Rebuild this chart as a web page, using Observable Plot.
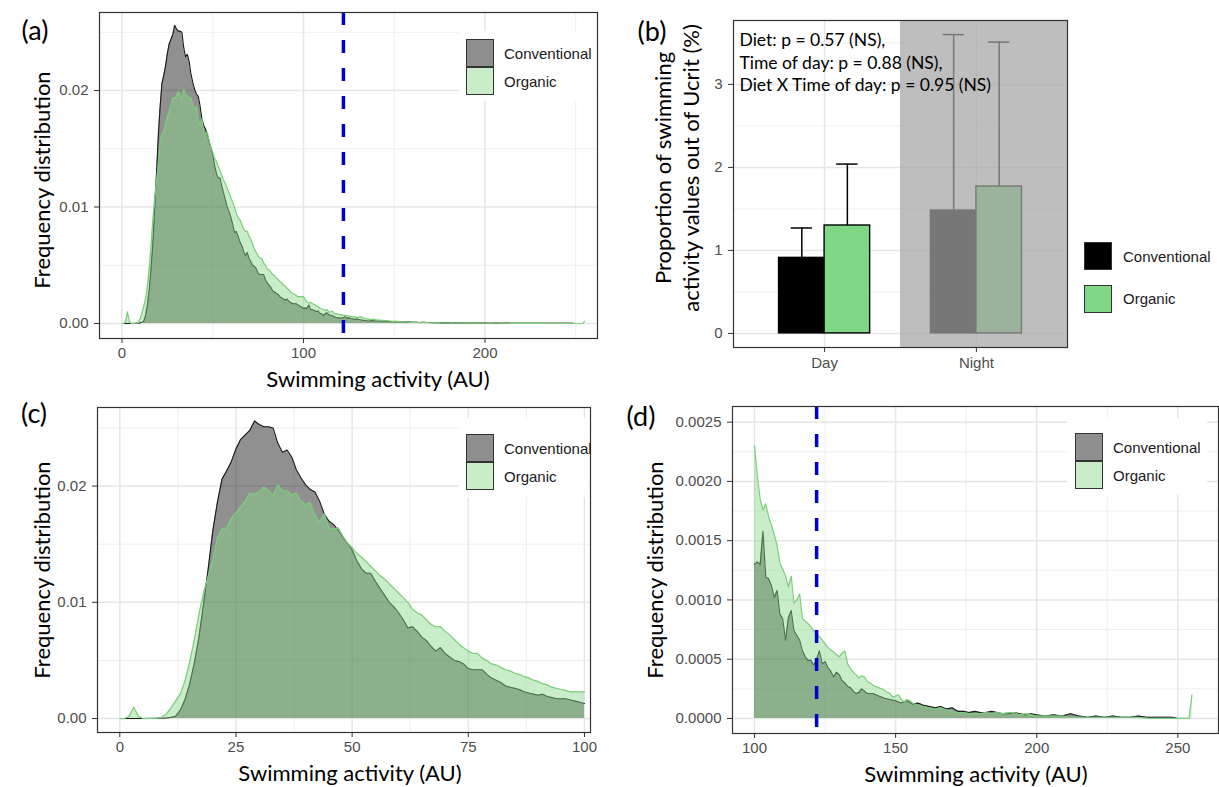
<!DOCTYPE html>
<html><head><meta charset="utf-8">
<script src="https://cdn.jsdelivr.net/npm/d3@7"></script>
<script src="https://cdn.jsdelivr.net/npm/@observablehq/plot@0.6"></script>
<style>
body{margin:0;background:#fff;}
#fig{position:relative;width:1219px;height:787px;overflow:hidden;font-family:Lato,"Open Sans",sans-serif;background:#fff;}
.abs{position:absolute;white-space:nowrap;color:#000;}
.plabel{font-size:27px;transform:translate(-50%,-50%);}
.xt{font-size:22px;transform:translate(-50%,-50%);}
.yt{font-size:22px;transform:translate(-50%,-50%) rotate(-90deg);text-align:center;}
.bg{position:absolute;background:#fff;}
.key{position:absolute;box-sizing:border-box;border:1.5px solid #333;}
.ltext{position:absolute;white-space:nowrap;font-family:"Liberation Sans",Arial,sans-serif;font-size:15px;color:#1a1a1a;transform:translateY(-50%);}
</style></head><body><div id="fig"></div>
<script>
// ---------------- data ----------------
const ucrit = 122;
const dietNames = ["Conventional", "Organic"];

const conventionalX = [1,4,8,10,
 11,12,13,14,15,16,17,18,19,20,21,22,23,24,25,26,27,28,29,30,31,32,33,34,35,36,37,38,39,40,
 41,42,43,44,45,46,47,48,49,50,51,52,53,54,55,56,57,58,59,60,61,62,63,64,65,66,67,68,69,70,
 71,72,73,74,75,76,77,78,79,80,81,82,83,84,85,86,87,88,89,90,91,92,93,94,95,96,97,98,99,100,
 101,102,103,104,105,106,107,108,109,110,111,112,113,114,115,116,117,118,119,120,
 121,122,123,124,125,126,127,128,129,130,131,132,133,134,135,136,137,138,139,140,
 142,144,146,148,150,152,154,156,158,160,162,164,166,168,170,172,174,176,178,180,
 182,184,186,188,190,192,194,196,198,200,
 203,206,209,212,215,218,221,224,227,230,233,236,239,242,245,248,250];
const conventionalFreq = [0,0,0.00002,0.00005,
 0.0001,0.0002,0.0007,0.0016,0.0029,0.0047,0.0069,0.0098,0.0128,0.0161,
 0.0186,0.0206,0.0213,0.0221,0.0232,0.0240,0.0244,0.0248,0.0256,0.0253,
 0.0251,0.0251,0.0250,0.0237,0.0229,0.0231,0.0225,0.0214,0.0207,0.0201,
 0.0197,0.0195,0.0187,0.0176,0.0170,0.0167,0.0162,0.0156,0.0151,0.0145,
 0.0136,0.0129,0.0125,0.0125,0.0118,0.0112,0.0106,0.0100,0.0096,0.0091,
 0.0085,0.0078,0.0079,0.0075,0.0070,0.0067,0.0062,0.0058,0.0061,0.0056,
 0.0053,0.0050,0.0049,0.0047,0.0043,0.0042,0.0042,0.0042,0.0038,0.0035,
 0.0033,0.0031,0.0028,0.0027,0.0026,0.0025,0.0023,0.0022,0.0021,0.0020,
 0.0021,0.0019,0.0018,0.0017,0.0017,0.0017,0.0016,0.0015,0.0014,0.0013,
 0.00132,0.00130,0.00158,0.00119,0.00118,0.00112,0.00102,0.00108,0.00088,0.00084,
 0.00066,0.00085,0.00091,0.00074,0.00070,0.00066,0.00057,0.00052,0.00049,0.00049,
 0.00045,0.00050,0.00057,0.00046,0.00048,0.00043,0.00040,0.00035,0.00039,0.00037,
 0.00032,0.00030,0.00027,0.00026,0.00023,0.00021,0.00022,0.00025,0.00023,0.00021,
 0.00021,0.00019,0.00017,0.00016,0.00015,0.00013,0.00015,0.00012,0.00013,0.00011,
 0.00010,0.00009,0.00010,0.00008,0.00009,0.00006,0.00006,0.00005,0.00006,0.00005,
 0.00005,0.00006,0.00005,0.00004,0.00004,0.00005,0.00004,0.00003,0.00004,0.00003,
 0.00002,0.00003,0.00002,0.00004,0.00002,0.00001,0.00002,0.00001,0.00002,0.00001,
 0.00001,0.00002,0.00001,0.00001,0.00001,0.00001,0];

const organicX = [0,1,2,3,4,5,8,
 9,10,11,12,13,14,15,16,17,18,19,20,21,22,23,24,25,26,27,28,29,30,31,32,33,34,35,36,37,38,39,40,
 41,42,43,44,45,46,47,48,49,50,51,52,53,54,55,56,57,58,59,60,61,62,63,64,65,66,67,68,69,70,
 71,72,73,74,75,76,77,78,79,80,81,82,83,84,85,86,87,88,89,90,91,92,93,94,95,96,97,98,99,100,
 101,102,103,104,105,106,107,108,109,110,111,112,113,114,115,116,117,118,119,120,
 121,122,123,124,125,126,127,128,129,130,131,132,133,134,135,136,137,138,139,140,
 141,142,143,144,145,146,147,148,149,150,151,152,153,154,155,156,
 158,160,162,164,166,168,170,172,174,176,178,180,182,184,186,188,190,192,194,196,198,200,
 203,206,209,212,215,218,221,224,227,230,235,240,245,250,254,255];
const organicFreq = [0,0,0.0002,0.0010,0.0002,0,0.00003,
 0.0001,0.0004,0.0009,0.0015,0.0021,0.0032,0.0048,0.0067,0.0089,0.0108,0.0122,0.0136,
 0.0155,0.0163,0.0164,0.0172,0.0177,0.0182,0.0187,0.0194,0.0193,0.0195,
 0.0199,0.0196,0.0192,0.0201,0.0196,0.0196,0.0192,0.0194,0.0187,0.0184,
 0.0186,0.0175,0.0169,0.0176,0.0164,0.0163,0.0164,0.0157,0.0151,0.0147,
 0.0142,0.0139,0.0135,0.0131,0.0127,0.0123,0.0120,0.0116,0.0112,0.0108,
 0.0104,0.0100,0.0094,0.0091,0.0089,0.0085,0.0081,0.0079,0.0079,0.0075,
 0.0072,0.0068,0.0064,0.0061,0.0058,0.0056,0.0056,0.0052,0.0050,0.0047,
 0.0046,0.0044,0.0042,0.0041,0.0039,0.0038,0.0036,0.0035,0.0033,0.0032,
 0.0030,0.0029,0.0027,0.0026,0.0025,0.0024,0.0023,0.0023,0.0023,0.0023,
 0.00205,0.00185,0.00176,0.00181,0.00170,0.00163,0.00155,0.00146,0.00131,0.00126,
 0.00120,0.00111,0.00120,0.00097,0.00100,0.00105,0.00084,0.00082,0.00080,0.00077,
 0.00074,0.00071,0.00069,0.00066,0.00063,0.00060,0.00058,0.00056,0.00054,0.00052,
 0.00055,0.00057,0.00046,0.00042,0.00039,0.00037,0.00034,0.00036,0.00035,0.00031,
 0.00030,0.00028,0.00027,0.00026,0.00025,0.00024,0.00022,0.00021,0.00018,0.00019,
 0.00020,0.00016,0.00014,0.00016,0.00015,0.00013,
 0.00011,0.00010,0.00009,0.00008,0.00009,0.00007,0.00006,0.00005,0.00005,0.00004,
 0.00004,0.00004,0.00005,0.00004,0.00005,0.00004,0.00005,0.00005,0.00003,0.00004,
 0.00003,0.00002,
 0.00002,0.00002,0.00002,0.00001,0.00001,0.00001,0.00001,0.00001,0.00001,0.00001,
 0.00001,0,0,0,0,0.0002];

// panel (b)
const timeOfDay = ["Day", "Night"];
const barTime = ["Day", "Day", "Night", "Night"];
const barDiet = ["Conventional", "Organic", "Conventional", "Organic"];
const barMean = [0.91, 1.30, 1.48, 1.77];
const barUpper = [1.27, 2.04, 3.60, 3.51];
const statsText = ["Diet: p = 0.57 (NS),", "Time of day: p = 0.88 (NS),", "Diet X Time of day: p = 0.95 (NS)"];

// ---------------- styles ----------------
const convFill = "#080808", orgFill = "rgb(135,213,135)", areaAlpha = 0.45;
const convLine = "#1a1a1a", orgLine = "#7ccd7c";
const gridMajor = "#e6e6e6", gridMinor = "#efefef";
const plotStyle = {background: "transparent", fontFamily: "'Liberation Sans', Arial, sans-serif", fontSize: "15px", color: "#4d4d4d", overflow: "visible"};

const fig = document.getElementById("fig");
function place(node, left, top) {
  node.style.position = "absolute";
  node.style.left = left + "px";
  node.style.top = top + "px";
  fig.appendChild(node);
}
function html(tag, cls, text, css) {
  const el = document.createElement(tag);
  el.className = cls;
  if (text != null) el.innerHTML = text;
  Object.assign(el.style, css);
  fig.appendChild(el);
  return el;
}
const px = v => v + "px";

const convData = conventionalX.map((x, i) => ({x, f: conventionalFreq[i]}));
const orgData = organicX.map((x, i) => ({x, f: organicFreq[i]}));

function densityPanel(o) {
  const conv = convData.filter(d => d.x >= o.from && d.x <= o.to);
  const org = orgData.filter(d => d.x >= o.from && d.x <= o.to);
  return Plot.plot({
    width: o.width, height: o.height,
    marginLeft: o.ml, marginRight: o.mr, marginTop: o.mt, marginBottom: o.mb,
    x: {domain: o.xDomain},
    y: {domain: o.yDomain},
    style: plotStyle,
    marks: [
      Plot.gridX(o.xMinor, {stroke: gridMinor, strokeOpacity: 1, strokeWidth: 1}),
      Plot.gridY(o.yMinor, {stroke: gridMinor, strokeOpacity: 1, strokeWidth: 1}),
      Plot.gridX(o.xTicks, {stroke: gridMajor, strokeOpacity: 1, strokeWidth: 1.5}),
      Plot.gridY(o.yTicks, {stroke: gridMajor, strokeOpacity: 1, strokeWidth: 1.5}),
      Plot.areaY(conv, {x: "x", y: "f", fill: convFill, fillOpacity: areaAlpha}),
      Plot.lineY(conv, {x: "x", y: "f", stroke: convLine, strokeWidth: 1.1}),
      Plot.areaY(org, {x: "x", y: "f", fill: orgFill, fillOpacity: areaAlpha}),
      Plot.lineY(org, {x: "x", y: "f", stroke: orgLine, strokeWidth: 1.2}),
      o.ucrit ? Plot.ruleX([ucrit], {stroke: "#0000cd", strokeWidth: 3.5, strokeDasharray: "13,15"}) : null,
      Plot.frame({stroke: "#333", strokeWidth: 1.2}),
      Plot.axisX(o.xTicks, {tickSize: 5, tickPadding: 4, stroke: "#333", label: null}),
      Plot.axisY(o.yTicks, {tickSize: 5, tickPadding: 6, stroke: "#333", label: null, tickFormat: d3.format(o.yFmt)})
    ]
  });
}

// panel (a)
place(densityPanel({
  width: 610, height: 365, ml: 99, mr: 13, mt: 12, mb: 27,
  xDomain: [-12.4, 262], yDomain: [-0.00129, 0.0267],
  from: 0, to: 255,
  xTicks: [0, 100, 200], xMinor: [50, 150, 250],
  yTicks: [0, 0.01, 0.02], yMinor: [0.005, 0.015, 0.025], yFmt: ".2f", ucrit: true
}), 0, 0);

// panel (c)
place(densityPanel({
  width: 610, height: 380, ml: 97, mr: 20, mt: 17, mb: 38,
  xDomain: [-4.8, 101.3], yDomain: [-0.0012, 0.02676],
  from: 0, to: 100,
  xTicks: [0, 25, 50, 75, 100], xMinor: [12.5, 37.5, 62.5, 87.5],
  yTicks: [0, 0.01, 0.02], yMinor: [0.005, 0.015, 0.025], yFmt: ".2f", ucrit: false
}), 0, 390);

// panel (d)
place(densityPanel({
  width: 609, height: 380, ml: 122, mr: 1, mt: 16, mb: 37,
  xDomain: [92.2, 264.4], yDomain: [-0.000127, 0.002632],
  from: 100, to: 255,
  xTicks: [100, 150, 200, 250], xMinor: [125, 175, 225],
  yTicks: [0, 0.0005, 0.001, 0.0015, 0.002, 0.0025], yMinor: [0.00025, 0.00075, 0.00125, 0.00175, 0.00225], yFmt: ".4f", ucrit: true
}), 610, 390);

// panel (b)
const dodge = {Conventional: -0.15, Organic: 0.15};
const barHalf = 0.15, capHalf = 0.07;
const bars = barTime.map((t, i) => ({
  time: t, diet: barDiet[i], mean: barMean[i], upper: barUpper[i],
  cx: timeOfDay.indexOf(t) + 1 + dodge[barDiet[i]]
}));
const bX = [0.4, 2.6], bY = [-0.17, 3.77];
const nightBand = [{x1: timeOfDay.indexOf("Night") + 1 - 0.5, x2: bX[1], y1: bY[0], y2: bY[1]}];
const barColor = {Conventional: "#000000", Organic: "#80d886"};
const plotB = Plot.plot({
  width: 609, height: 380, marginLeft: 123, marginRight: 152, marginTop: 20, marginBottom: 33,
  x: {domain: bX}, y: {domain: bY},
  style: plotStyle,
  marks: [
    Plot.gridY([0.5, 1.5, 2.5, 3.5], {stroke: gridMinor, strokeOpacity: 1, strokeWidth: 1}),
    Plot.gridY([0, 1, 2, 3], {stroke: gridMajor, strokeOpacity: 1, strokeWidth: 1.5}),
    Plot.gridX([1, 2], {stroke: gridMajor, strokeOpacity: 1, strokeWidth: 1.5}),
    Plot.rect(bars, {x1: d => d.cx - barHalf, x2: d => d.cx + barHalf, y1: 0, y2: "mean", fill: d => barColor[d.diet], stroke: "#000", strokeWidth: 1.4}),
    Plot.ruleX(bars, {x: "cx", y1: "mean", y2: "upper", stroke: "#000", strokeWidth: 1.5}),
    Plot.ruleY(bars, {y: "upper", x1: d => d.cx - capHalf, x2: d => d.cx + capHalf, stroke: "#000", strokeWidth: 1.5}),
    Plot.rect(nightBand, {x1: "x1", x2: "x2", y1: "y1", y2: "y2", fill: "rgb(165,165,165)", fillOpacity: 0.72}),
    Plot.text([statsText.join("\n")], {text: d => d, frameAnchor: "top-left", textAnchor: "start", lineAnchor: "top", dx: 6, dy: 10, fontSize: 17.5, fontFamily: "Lato, sans-serif", fill: "#000", lineHeight: 1.28}),
    Plot.frame({stroke: "#333", strokeWidth: 1.2}),
    Plot.axisX([1, 2], {tickSize: 5, tickPadding: 5, stroke: "#333", label: null, tickFormat: d => timeOfDay[d - 1]}),
    Plot.axisY([0, 1, 2, 3], {tickSize: 5, tickPadding: 6, stroke: "#333", label: null, tickFormat: d3.format("d")})
  ]
});
place(plotB, 610, 0);

// ---------------- legends (HTML) ----------------
const keyFill = {Conventional: "#8f8f8f", Organic: "#c9ecc9"};
function insideLegend(bgL, bgT, bgW, bgH, keyL, keyT, textL) {
  html("div", "bg", null, {left: px(bgL), top: px(bgT), width: px(bgW), height: px(bgH)});
  dietNames.forEach((name, i) => {
    html("div", "key", null, {left: px(keyL), top: px(keyT + i * 28), width: px(28), height: px(28), background: keyFill[name]});
    html("div", "ltext", name, {left: px(textL), top: px(keyT + 14 + i * 28)});
  });
}
insideLegend(459, 31, 137, 70, 466, 39, 504);
insideLegend(459, 418, 130, 79, 466, 434, 504);
insideLegend(1067, 418, 140, 77, 1075, 433, 1113);
dietNames.forEach((name, i) => {
  html("div", "key", null, {left: px(1084), top: px(242 + i * 43), width: px(28), height: px(28), background: barColor[name]});
  html("div", "ltext", name, {left: px(1123), top: px(256 + i * 42)});
});

// ---------------- titles & panel labels ----------------
const xTitle = "Swimming activity (AU)", yTitle = "Frequency distribution";
html("div", "abs plabel", "(a)", {left: px(35), top: px(29)});
html("div", "abs plabel", "(b)", {left: px(652), top: px(30)});
html("div", "abs plabel", "(c)", {left: px(34), top: px(412)});
html("div", "abs plabel", "(d)", {left: px(641), top: px(415)});
html("div", "abs xt", xTitle, {left: px(378), top: px(378)});
html("div", "abs xt", xTitle, {left: px(350), top: px(772)});
html("div", "abs xt", xTitle, {left: px(976), top: px(773)});
html("div", "abs yt", yTitle, {left: px(41), top: px(180)});
html("div", "abs yt", yTitle, {left: px(41), top: px(570)});
html("div", "abs yt", yTitle, {left: px(654), top: px(570)});
html("div", "abs yt", "Proportion of swimming<br>activity values out of Ucrit (%)", {left: px(677), top: px(168), lineHeight: "28px"});
</script>
</body></html>
